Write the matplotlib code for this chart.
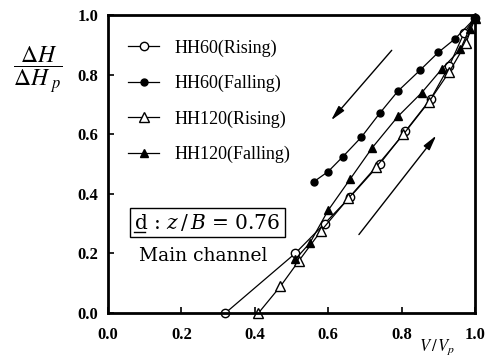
import matplotlib
matplotlib.use('Agg')
import matplotlib.pyplot as plt

# data
hh60_rise_x = [0.32, 0.51, 0.59, 0.66, 0.74, 0.81, 0.88, 0.93, 0.97, 1.0]
hh60_rise_y = [0.0, 0.20, 0.30, 0.39, 0.50, 0.61, 0.72, 0.83, 0.94, 0.99]
hh60_fall_x = [1.0, 0.945, 0.90, 0.85, 0.79, 0.74, 0.69, 0.64, 0.60, 0.56]
hh60_fall_y = [0.99, 0.92, 0.875, 0.815, 0.745, 0.67, 0.59, 0.525, 0.475, 0.44]
hh120_rise_x = [0.41, 0.47, 0.52, 0.58, 0.655, 0.73, 0.805, 0.875, 0.93, 0.975, 1.0]
hh120_rise_y = [0.0, 0.09, 0.175, 0.275, 0.385, 0.49, 0.60, 0.71, 0.81, 0.905, 0.99]
hh120_fall_x = [1.0, 0.985, 0.96, 0.91, 0.855, 0.79, 0.72, 0.66, 0.60, 0.55, 0.51]
hh120_fall_y = [0.99, 0.955, 0.885, 0.82, 0.74, 0.66, 0.555, 0.45, 0.345, 0.235, 0.18]

labels = ['HH60(Rising)', 'HH60(Falling)', 'HH120(Rising)', 'HH120(Falling)']
xticks = [0.0, 0.2, 0.4, 0.6, 0.8, 1.0]
yticks = [0.0, 0.2, 0.4, 0.6, 0.8, 1.0]

fig = plt.figure(figsize=(4.94, 3.58), dpi=100)
ax = fig.add_axes([0.2186, 0.1257, 0.743, 0.832])

kw = dict(color='k', lw=0.9, clip_on=False)
ax.plot(hh60_rise_x, hh60_rise_y, marker='o', ms=6, mfc='white', mec='k', label=labels[0], **kw)
ax.plot(hh60_fall_x, hh60_fall_y, marker='o', ms=5, mfc='k', mec='k', label=labels[1], **kw)
ax.plot(hh120_rise_x, hh120_rise_y, marker='^', ms=6.5, mfc='white', mec='k', label=labels[2], **kw)
ax.plot(hh120_fall_x, hh120_fall_y, marker='^', ms=5.5, mfc='k', mec='k', label=labels[3], **kw)

ax.set_xlim(0, 1)
ax.set_ylim(0, 1)
ax.set_xticks(xticks)
ax.set_yticks(yticks)
ax.set_xticklabels(['%.1f' % v for v in xticks], fontfamily='Liberation Serif',
                   fontweight='bold', fontsize=12)
ax.set_yticklabels(['%.1f' % v for v in yticks], fontfamily='Liberation Serif',
                   fontweight='bold', fontsize=12)
ax.tick_params(direction='in', length=4, width=1.2, pad=7)
ax.tick_params(axis='x', pad=10)
for s in ax.spines.values():
    s.set_linewidth(2)

leg = ax.legend(loc='upper left', bbox_to_anchor=(0.055, 0.918), frameon=False,
                borderpad=0, borderaxespad=0, handlelength=1.7, handletextpad=0.85,
                labelspacing=1.0, prop={'family': 'Liberation Serif', 'size': 13})

# arrows
ax.annotate('', xy=(0.603, 0.64), xytext=(0.778, 0.889),
            arrowprops=dict(arrowstyle='-|>,head_length=0.9,head_width=0.22',
                            color='k', lw=1))
ax.annotate('', xy=(0.899, 0.603), xytext=(0.679, 0.256),
            arrowprops=dict(arrowstyle='-|>,head_length=0.9,head_width=0.22',
                            color='k', lw=1))

ax.text(0.271, 0.303, r'd : $z\,/\,B$ = 0.76', fontsize=14.5,
        fontfamily='DejaVu Serif', math_fontfamily='dejavuserif',
        ha='center', va='center',
        bbox=dict(boxstyle='square,pad=0.2', fc='white', ec='k', lw=1))
# underline under the "d"
ax.plot([0.072, 0.101], [0.273, 0.273], color='k', lw=1, zorder=5)
ax.text(0.26, 0.192, 'Main channel', fontsize=13.5, fontfamily='DejaVu Serif',
        ha='center', va='center')

fig.text(38 / 494, 1 - 70 / 358, r'$\dfrac{\Delta H}{\Delta H_{\ p}}$', fontsize=17,
         math_fontfamily='stix', ha='center', va='center')
fig.text(437 / 494, 0.004, r'$V\,/\,V_p$', fontsize=12,
         math_fontfamily='stix', ha='center', va='bottom')

fig.savefig('out.png', dpi=100)
